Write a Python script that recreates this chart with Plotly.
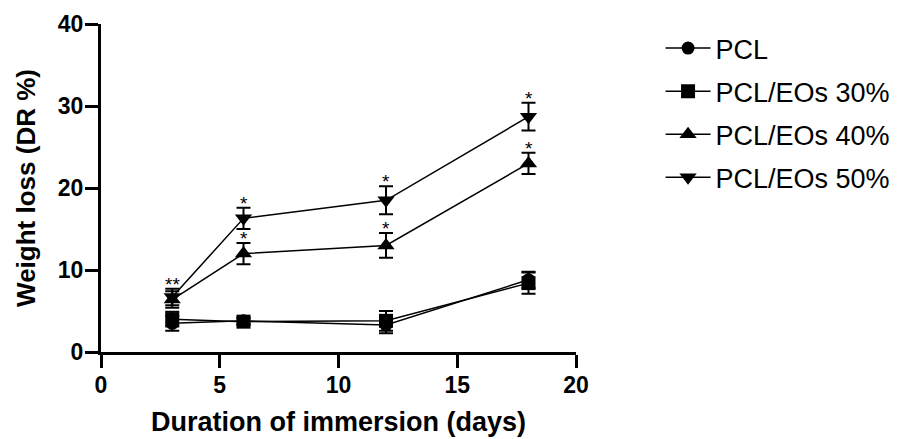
import plotly.graph_objects as go

days = [3, 6, 12, 18]
series_names = ["PCL", "PCL/EOs 30%", "PCL/EOs 40%", "PCL/EOs 50%"]
pcl = [3.5, 3.8, 3.3, 8.8]
pcl_err = [0.9, 0.4, 1.0, 1.0]
eo30 = [4.0, 3.7, 3.8, 8.4]
eo30_err = [0.9, 0.4, 1.2, 1.3]
eo40 = [6.4, 12.0, 13.0, 23.0]
eo40_err = [1.0, 1.3, 1.5, 1.3]
eo50 = [6.7, 16.3, 18.5, 28.7]
eo50_err = [1.0, 1.3, 1.7, 1.7]
symbols = ["circle", "square", "triangle-up", "triangle-down"]
star_labels_40 = ["", "*", "*", "*"]
star_labels_50 = ["**", "*", "*", "*"]

x_ticks = [0, 5, 10, 15, 20]
y_ticks = [0, 10, 20, 30, 40]

FONT = "Liberation Sans, Arial, sans-serif"

fig = go.Figure()
values = [pcl, eo30, eo40, eo50]
errors = [pcl_err, eo30_err, eo40_err, eo50_err]
sizes = [13, 14, 15, 15]
for i, (name, vals, errs, sym, sz) in enumerate(zip(series_names, values, errors, symbols, sizes)):
    fig.add_trace(go.Scatter(
        x=days, y=vals, name=name, mode="lines+markers", legendgroup=f"g{i}",
        line=dict(color="black", width=1.5),
        marker=dict(symbol=sym, size=sz, color="black"),
        error_y=dict(type="data", array=errs, visible=True, color="black",
                     thickness=2, width=7),
    ))

for vals, errs, labels in [(eo40, eo40_err, star_labels_40), (eo50, eo50_err, star_labels_50)]:
    for d, v, e, lab in zip(days, vals, errs, labels):
        if lab:
            fig.add_annotation(x=d, y=v + e, text=lab, showarrow=False,
                               yanchor="bottom", yshift=-8,
                               font=dict(family=FONT, size=19, color="black"))

axis_common = dict(
    showline=True, linecolor="black", linewidth=3,
    ticks="outside", ticklen=13, tickwidth=3, tickcolor="black",
    showgrid=False, zeroline=False, automargin=False,
    tickfont=dict(family=FONT, size=23, color="black", weight="bold"),
)

fig.update_layout(
    width=899, height=439,
    margin=dict(l=93, r=329, t=16, b=95),
    plot_bgcolor="white", paper_bgcolor="white",
    xaxis=dict(range=[0, 20], tickvals=x_ticks, ticklabelstandoff=-3,
               title=dict(text="Duration of immersion (days)", standoff=16,
                          font=dict(family=FONT, size=27, color="black", weight="bold")),
               **axis_common),
    yaxis=dict(range=[0, 40], tickvals=y_ticks, ticklabelstandoff=-3,
               title=dict(text="Weight loss (DR %)", standoff=15,
                          font=dict(family=FONT, size=26, color="black", weight="bold")),
               **axis_common),
    legend=dict(x=1.178, y=1.0, xanchor="left", yanchor="top",
                font=dict(family=FONT, size=27, color="black"),
                tracegroupgap=5, itemwidth=45,
                bgcolor="rgba(0,0,0,0)"),
    showlegend=True,
)

fig.write_html("out.html")
